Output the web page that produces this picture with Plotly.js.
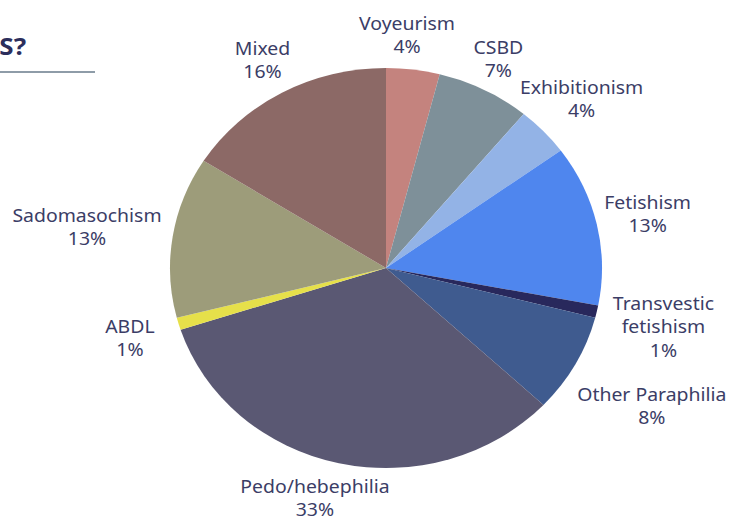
<!DOCTYPE html>
<html>
<head>
<meta charset="utf-8">
<script src="https://cdn.plot.ly/plotly-3.0.1.min.js"></script>
<style>
html,body{margin:0;padding:0;background:#fff;overflow:hidden;}
#chart{width:734px;height:523px;transform:scaleX(1.08);transform-origin:386px 0;}
</style>
</head>
<body>
<div id="chart"></div>
<script>
// Data
const labels = ["Voyeurism", "CSBD", "Exhibitionism", "Fetishism", "Transvestic<br>fetishism", "Other Paraphilia", "Pedo/hebephilia", "ABDL", "Sadomasochism", "Mixed"];
const values = [4, 7, 4, 13, 1, 8, 33, 1, 13, 16];
const colors = ["#C4837E", "#7E9099", "#93B3E6", "#4F86EE", "#28285C", "#3F5B8F", "#5A5873", "#E6E04A", "#9D9C7A", "#8C6966"];
const titleText = "S?";

// Label placement (layout only), final pixel centres
const labelPos = [
  [407, 35], [498, 58], [581, 99], [647, 214], [664, 326],
  [652, 405], [315, 497], [130, 337], [87, 227], [262, 60]
];

const W = 734, H = 523;
const cx = 386, cy = 268, r = 200, sx = 1.08;
const px = x => (cx + (x - cx) / sx) / W;   // final pixel x -> paper x (pre-stretch)
const py = y => 1 - y / H;

const annotations = labels.map((l, i) => ({
  xref: 'paper', yref: 'paper',
  x: px(labelPos[i][0]), y: py(labelPos[i][1]),
  xanchor: 'center', yanchor: 'middle',
  text: l + '<br>' + values[i] + '%',
  showarrow: false,
  font: {family: 'Noto Sans, Open Sans, sans-serif', size: 18, color: '#3B3D66'}
}));
annotations.push({
  xref: 'paper', yref: 'paper', x: px(29), y: py(45),
  xanchor: 'right', yanchor: 'middle', text: '<b>' + titleText + '</b>', showarrow: false,
  font: {family: 'Noto Sans, Open Sans, sans-serif', size: 24, color: '#2C2E5C'}
});

const data = [{
  type: 'pie',
  labels: labels,
  values: values,
  marker: {colors: colors, line: {width: 0}},
  sort: false,
  direction: 'clockwise',
  rotation: 0,
  textinfo: 'none',
  hoverinfo: 'label+percent',
  showlegend: false,
  domain: {x: [(cx - r) / W, (cx + r) / W], y: [1 - (cy + r) / H, 1 - (cy - r) / H]}
}];

const layout = {
  width: W, height: H,
  margin: {l: 0, r: 0, t: 0, b: 0},
  paper_bgcolor: '#ffffff',
  showlegend: false,
  annotations: annotations,
  shapes: [{type: 'line', xref: 'paper', yref: 'paper', x0: px(0), x1: px(95), y0: py(72), y1: py(72),
            line: {color: '#8E9CA8', width: 2}}]
};

Plotly.newPlot('chart', data, layout, {staticPlot: true});
</script>
</body>
</html>
